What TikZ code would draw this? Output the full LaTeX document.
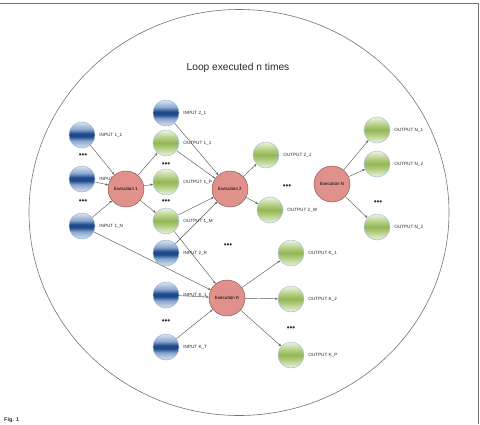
\documentclass[tikz,border=0pt]{standalone}
\usepackage{fontspec}
\setmainfont{Liberation Sans}
\usetikzlibrary{arrows.meta,backgrounds}
\definecolor{inA}{HTML}{DDE6F2}
\definecolor{inB}{HTML}{8AA6CE}
\definecolor{inC}{HTML}{1F4B8C}
\definecolor{outA}{HTML}{EEF4E2}
\definecolor{outB}{HTML}{B4CF82}
\definecolor{outC}{HTML}{94B656}
\definecolor{exfill}{HTML}{E0918B}
\definecolor{exdraw}{HTML}{8A5B57}
\definecolor{inborder}{HTML}{9AB0CF}
\definecolor{outborder}{HTML}{A6BEDC}
\pgfdeclareverticalshading{inshade}{100bp}{color(0bp)=(inA); color(25bp)=(inA); color(39bp)=(inB); color(47bp)=(inC); color(53bp)=(inC); color(61bp)=(inB); color(75bp)=(inA); color(100bp)=(inA)}
\pgfdeclareverticalshading{outshade}{100bp}{color(0bp)=(outA); color(25bp)=(outA); color(40bp)=(outB); color(50bp)=(outC); color(60bp)=(outB); color(75bp)=(outA); color(100bp)=(outA)}
\tikzset{
  inp/.style={circle, minimum size=26pt, inner sep=0pt, draw=inborder, line width=0.5pt, shade, shading=inshade},
  outp/.style={circle, minimum size=26pt, inner sep=0pt, draw=outborder, line width=0.5pt, shade, shading=outshade},
  exe/.style={circle, minimum size=36pt, inner sep=0pt, draw=exdraw, line width=0.5pt, fill=exfill,
    font=\fontsize{4.5}{5}\selectfont},
  lbl/.style={font=\fontsize{4.6}{5}\selectfont, inner sep=0pt, text=black!85, xshift=4pt},
  conn/.style={draw=black!65, line width=0.45pt, -{Stealth[length=2.8pt,width=2.3pt]}},
  dotsnode/.style={font=\fontsize{8}{8}\selectfont, inner sep=0pt, text=black!85},
}
\begin{document}
\begin{tikzpicture}[x=1pt,y=-1pt]
\useasboundingbox (0,0) rectangle (480,424);
% nodes
\node[font=\fontsize{10.2}{12}\selectfont, text=black!85] (title) at (238,68) {Loop executed n times};
\node[inp, label={[lbl]right:INPUT 1\_1}] (i11) at (82,135) {};
\node[dotsnode] (d1) at (83,156) {•••};
\node[inp, label={[lbl]right:INPUT 1\_k}] (i1k) at (82,179) {};
\node[dotsnode] (d2) at (83,202) {•••};
\node[inp, label={[lbl]right:INPUT 1\_N}] (i1n) at (82,226) {};
\node[exe] (e1) at (126,189) {Execution 1};
\node[inp, label={[lbl]right:INPUT 2\_1}] (i21) at (166,113) {};
\node[outp, label={[lbl]right:OUTPUT 1\_1}] (o11) at (166,143) {};
\node[dotsnode] (d3) at (166,165) {•••};
\node[outp, label={[lbl]right:OUTPUT 1\_P}] (o1p) at (166,182) {};
\node[dotsnode] (d4) at (166,202) {•••};
\node[outp, label={[lbl]right:OUTPUT 1\_M}] (o1m) at (166,221) {};
\node[inp, label={[lbl]right:INPUT 2\_R}] (i2r) at (166,253) {};
\node[exe] (e2) at (230,189) {Execution 2};
\node[outp, label={[lbl]right:OUTPUT 2\_1}] (o21) at (266,155) {};
\node[dotsnode] (d5) at (287,187) {•••};
\node[outp, label={[lbl]right:OUTPUT 2\_W}] (o2w) at (270,210) {};
\node[exe] (en) at (332,184) {Execution N};
\node[outp, label={[lbl]right:OUTPUT N\_1}] (on1) at (377,130) {};
\node[outp, label={[lbl]right:OUTPUT N\_2}] (on2) at (377,164) {};
\node[dotsnode] (d6) at (378,203) {•••};
\node[outp, label={[lbl]right:OUTPUT N\_2}] (on3) at (377,227) {};
\node[dotsnode] (d7) at (228,246) {•••};
\node[exe] (ek) at (227,298) {Execution K};
\node[inp, label={[lbl]right:INPUT K\_1}] (ik1) at (166,295) {};
\node[dotsnode] (d8) at (166,322) {•••};
\node[inp, label={[lbl]right:INPUT K\_T}] (ikt) at (166,347) {};
\node[outp, label={[lbl]right:OUTPUT K\_1}] (ok1) at (291,253) {};
\node[outp, label={[lbl]right:OUTPUT K\_2}] (ok2) at (291,299) {};
\node[dotsnode] (d9) at (291,329) {•••};
\node[outp, label={[lbl]right:OUTPUT K\_P}] (okp) at (291,355) {};
\node[anchor=south west, inner sep=0pt, font=\fontsize{5.5}{6}\selectfont\bfseries, text=black!80] (cap) at (4,423) {Fig. 1};
\begin{scope}[on background layer]
  \draw[black!55, line width=0.6pt] (239,212.5) ellipse [x radius=210, y radius=203];
  \draw[black!55, line width=0.8pt] (0,3.5) -- (478.6,3.5) -- (478.6,424);
  \draw[conn] (i11) -- (e1);
  \draw[conn] (i1k) -- (e1);
  \draw[conn] (i1n) -- (e1);
  \draw[conn] (i1n) -- (ek);
  \draw[conn] (e1) -- (o11);
  \draw[conn] (e1) -- (o1p);
  \draw[conn] (e1) -- (o1m);
  \draw[conn] (i21) -- (e2);
  \draw[conn] (o11) -- (e2);
  \draw[conn] (o1m) -- (e2);
  \draw[conn] (i2r) -- (e2);
  \draw[conn] (o1m) -- (ek);
  \draw[conn] (e2) -- (o21);
  \draw[conn] (e2) -- (o2w);
  \draw[conn] (en) -- (on1);
  \draw[conn] (en) -- (on2);
  \draw[conn] (en) -- (on3);
  \draw[conn] (ik1) -- (ek);
  \draw[conn] (ikt) -- (ek);
  \draw[conn] (ek) -- (ok1);
  \draw[conn] (ek) -- (ok2);
  \draw[conn] (ek) -- (okp);
\end{scope}
\end{tikzpicture}
\end{document}
